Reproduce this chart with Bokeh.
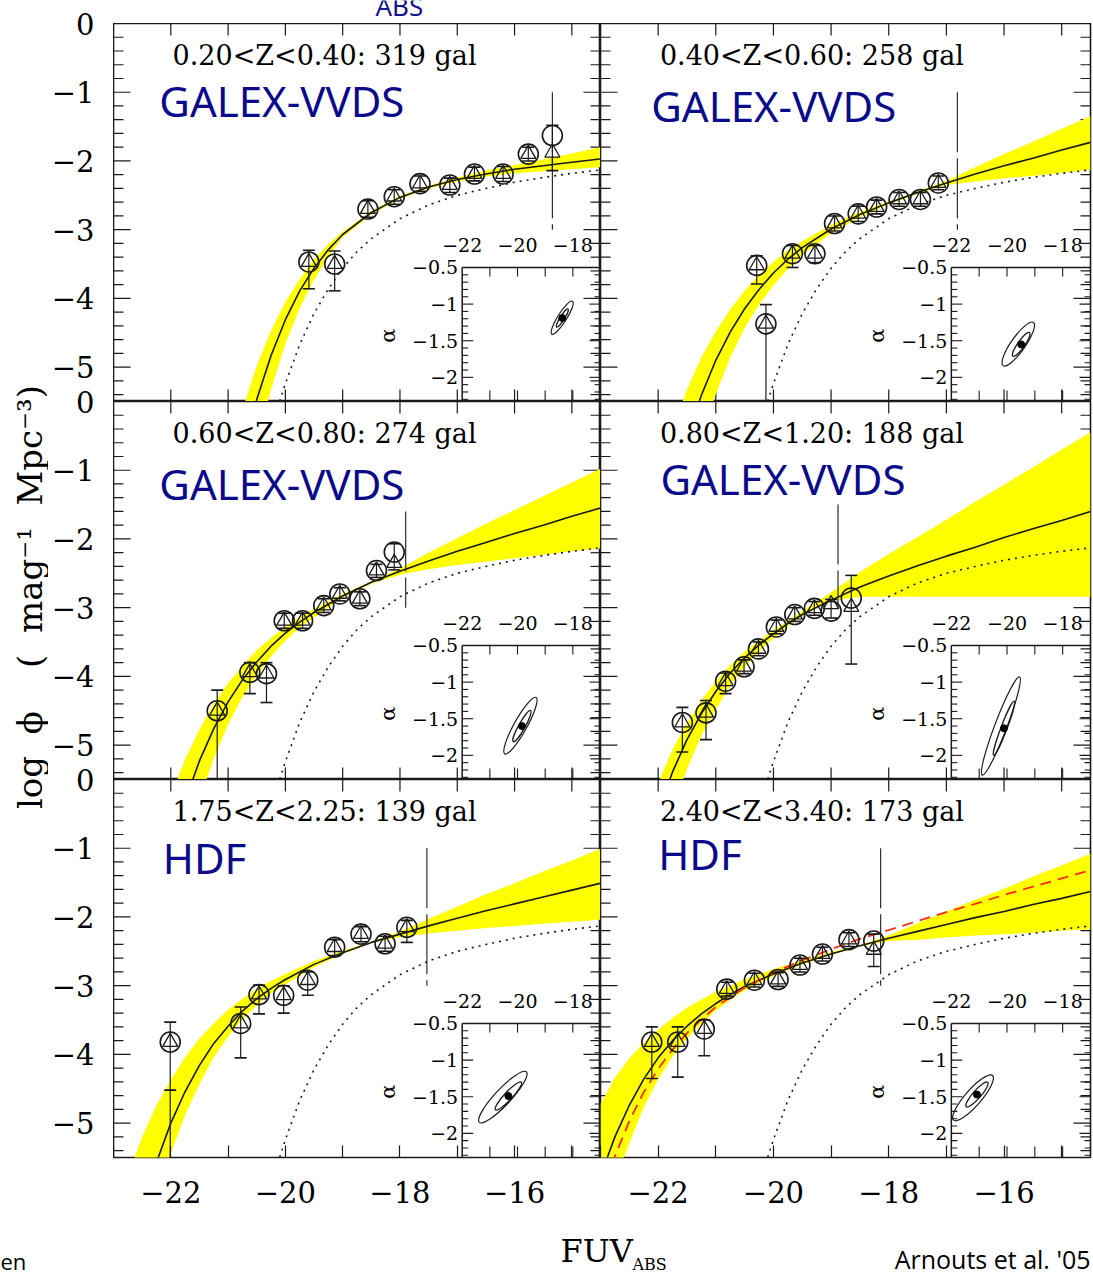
import math
from bokeh.plotting import figure
from bokeh.models import Range1d, LinearAxis, FixedTicker
from bokeh.layouts import row, column
from bokeh.embed import file_html
from bokeh.resources import INLINE
from bokeh.core.properties import value

# ------------------------------------------------------------------ values
X_LIMITS = (-23.0, -14.5)
Y_LIMITS = (-5.5, 0.0)
X_MAJOR = [-22, -20, -18, -16]
X_MINOR = [-23, -21, -19, -17, -15]
X_TICK_LABELS = ["\u221222", "\u221220", "\u221218", "\u221216"]
Y_MAJOR = [0, -1, -2, -3, -4, -5]
Y_TICK_LABELS = ["0", "\u22121", "\u22122", "\u22123", "\u22124", "\u22125"]
NB = "\u00a0"
Y_TITLE = ("log" + NB * 2 + "\u03d5" + NB * 4 + "(" + NB * 2 + "mag\u207b\u00b9"
           + NB * 2 + "Mpc\u207b\u00b3)")
X_TITLE = "FUV"
X_TITLE_SUB = "ABS"

PANEL_TITLES = ["0.20<Z<0.40: 319 gal", "0.40<Z<0.60: 258 gal",
                "0.60<Z<0.80: 274 gal", "0.80<Z<1.20: 188 gal",
                "1.75<Z<2.25: 139 gal", "2.40<Z<3.40: 173 gal"]
SURVEYS = ["GALEX-VVDS", "GALEX-VVDS", "GALEX-VVDS", "GALEX-VVDS", "HDF", "HDF"]

# local (z=0) luminosity function, dotted, same in every panel
LOCAL_X = [-20.2, -20.1, -20.0, -19.75, -19.5, -19.25, -19.0, -18.75, -18.5,
           -18.0, -17.5, -17.0, -16.5, -16.0, -15.5, -15.0, -14.5]
LOCAL_Y = [-5.79, -5.50, -5.24, -4.67, -4.22, -3.86, -3.56, -3.32, -3.13,
           -2.84, -2.64, -2.50, -2.40, -2.31, -2.24, -2.18, -2.13]

# data points: circle value, triangle value, error range
P1_X = [-19.59, -19.14, -18.56, -18.10, -17.65, -17.13, -16.70, -16.20, -15.76, -15.34]
P1_Y = [-3.47, -3.50, -2.70, -2.52, -2.33, -2.35, -2.19, -2.19, -1.90, -1.63]
P1_TRI = [-3.47, -3.50, -2.70, -2.52, -2.33, -2.35, -2.19, -2.19, -1.90, -1.88]
P1_LO = [-3.86, -3.89, -2.82, -2.63, -2.44, -2.46, -2.29, -2.30, -2.00, -2.14]
P1_HI = [-3.30, -3.31, -2.58, -2.42, -2.22, -2.25, -2.09, -2.08, -1.80, -1.48]

P2_X = [-20.29, -20.13, -19.67, -19.28, -18.94, -18.53, -18.21, -17.82, -17.45, -17.14]
P2_Y = [-3.52, -4.37, -3.35, -3.35, -2.91, -2.77, -2.67, -2.56, -2.56, -2.32]
P2_TRI = [-3.52, -4.37, -3.35, -3.35, -2.91, -2.77, -2.67, -2.56, -2.56, -2.32]
P2_LO = [-3.79, -6.00, -3.55, -3.48, -3.02, -2.88, -2.77, -2.66, -2.66, -2.42]
P2_HI = [-3.38, -4.09, -3.23, -3.23, -2.80, -2.66, -2.57, -2.46, -2.46, -2.22]

P3_X = [-21.19, -20.62, -20.33, -20.02, -19.70, -19.33, -19.05, -18.70, -18.41, -18.10]
P3_Y = [-4.50, -3.94, -3.96, -3.19, -3.19, -2.97, -2.80, -2.87, -2.46, -2.19]
P3_TRI = [-4.50, -3.94, -3.96, -3.19, -3.19, -2.97, -2.80, -2.87, -2.46, -2.35]
P3_LO = [-6.00, -4.25, -4.38, -3.30, -3.30, -3.07, -2.90, -2.97, -2.56, -2.45]
P3_HI = [-4.20, -3.80, -3.80, -3.08, -3.08, -2.87, -2.71, -2.77, -2.37, -2.07]

P4_X = [-21.58, -21.17, -20.83, -20.51, -20.26, -19.95, -19.63, -19.29, -19.00, -18.65]
P4_Y = [-4.67, -4.53, -4.07, -3.86, -3.60, -3.28, -3.10, -3.01, -3.05, -2.86]
P4_TRI = [-4.67, -4.53, -4.07, -3.86, -3.60, -3.28, -3.10, -3.01, -2.95, -2.99]
P4_LO = [-5.10, -4.92, -4.25, -3.96, -3.70, -3.38, -3.20, -3.11, -3.15, -3.82]
P4_HI = [-4.45, -4.35, -3.95, -3.76, -3.50, -3.18, -3.00, -2.91, -2.88, -2.53]

P5_X = [-22.01, -20.78, -20.46, -20.03, -19.61, -19.14, -18.68, -18.26, -17.88]
P5_Y = [-3.82, -3.55, -3.13, -3.14, -2.92, -2.44, -2.25, -2.39, -2.15]
P5_TRI = [-3.82, -3.55, -3.13, -3.14, -2.92, -2.44, -2.25, -2.39, -2.15]
P5_LO = [-6.00, -4.05, -3.41, -3.40, -3.14, -2.56, -2.36, -2.50, -2.37]
P5_HI = [-3.53, -3.31, -2.99, -3.00, -2.80, -2.33, -2.14, -2.28, -2.05]

P6_X = [-22.11, -21.66, -21.20, -20.81, -20.33, -19.92, -19.54, -19.15, -18.69, -18.26]
P6_Y = [-3.82, -3.82, -3.63, -3.05, -2.92, -2.91, -2.70, -2.54, -2.33, -2.35]
P6_TRI = [-3.82, -3.82, -3.63, -3.05, -2.92, -2.91, -2.70, -2.54, -2.33, -2.48]
P6_LO = [-4.35, -4.33, -4.02, -3.15, -3.02, -3.01, -2.80, -2.64, -2.43, -2.72]
P6_HI = [-3.60, -3.60, -3.50, -2.95, -2.82, -2.81, -2.60, -2.44, -2.23, -2.25]

# extra error caps (triangle estimator)
EXTRA_CAP_X = [[], [], [], [], [-22.01], []]
EXTRA_CAP_Y = [[], [], [], [], [-4.52], []]

# best-fit curves (solid) and their uncertainty bands (yellow)
P1_FIT_X = [-21.0, -20.75, -20.5, -20.25, -20.0, -19.75, -19.5, -19.25, -19.0, -18.5,
            -18.0, -17.5, -17.0, -16.5, -16.0, -15.5, -15.0, -14.5]
P1_FIT_Y = [-7.30, -6.29, -5.47, -4.83, -4.31, -3.89, -3.56, -3.29, -3.07, -2.75,
            -2.53, -2.38, -2.27, -2.19, -2.12, -2.07, -2.02, -1.97]
P1_BAND_HI = [-6.49, -5.62, -4.98, -4.47, -4.05, -3.72, -3.43, -3.21, -3.03, -2.73,
              -2.51, -2.36, -2.24, -2.14, -2.06, -1.98, -1.89, -1.80]
P1_BAND_LO = [-8.30, -7.20, -6.13, -5.32, -4.66, -4.14, -3.73, -3.39, -3.11, -2.78,
              -2.55, -2.40, -2.30, -2.23, -2.18, -2.15, -2.12, -2.09]

P2_FIT_X = [-21.75, -21.5, -21.25, -21.0, -20.75, -20.5, -20.25, -20.0, -19.75, -19.5,
            -19.0, -18.5, -18.0, -17.5, -17.0, -16.5, -16.0, -15.5, -15.0, -14.5]
P2_FIT_Y = [-6.80, -6.03, -5.41, -4.90, -4.49, -4.15, -3.87, -3.63, -3.43, -3.26,
            -2.99, -2.78, -2.61, -2.46, -2.32, -2.19, -2.07, -1.96, -1.84, -1.73]
P2_BAND_HI = [-5.89, -5.33, -4.86, -4.48, -4.16, -3.89, -3.66, -3.47, -3.30, -3.17,
              -2.93, -2.74, -2.59, -2.44, -2.29, -2.09, -1.90, -1.72, -1.53, -1.35]
P2_BAND_LO = [-7.50, -6.86, -6.03, -5.39, -4.86, -4.43, -4.09, -3.81, -3.57, -3.37,
              -3.05, -2.82, -2.63, -2.48, -2.35, -2.30, -2.25, -2.22, -2.17, -2.13]

P3_FIT_X = [-22.25, -22.0, -21.75, -21.5, -21.25, -21.0, -20.75, -20.5, -20.25, -20.0,
            -19.75, -19.5, -19.0, -18.5, -18.0, -17.5, -17.0, -16.5, -16.0, -15.5,
            -15.0, -14.5]
P3_FIT_Y = [-7.40, -6.52, -5.81, -5.23, -4.76, -4.37, -4.05, -3.79, -3.56, -3.37,
            -3.21, -3.07, -2.83, -2.63, -2.47, -2.32, -2.18, -2.05, -1.92, -1.80,
            -1.67, -1.55]
P3_BAND_HI = [-6.40, -5.74, -5.21, -4.77, -4.40, -4.10, -3.85, -3.62, -3.44, -3.28,
              -3.14, -3.02, -2.80, -2.62, -2.43, -2.20, -1.99, -1.78, -1.58, -1.38,
              -1.18, -0.98]
P3_BAND_LO = [-8.40, -7.50, -6.55, -5.81, -5.19, -4.70, -4.30, -3.98, -3.71, -3.48,
              -3.29, -3.14, -2.86, -2.65, -2.52, -2.44, -2.38, -2.33, -2.28, -2.23,
              -2.18, -2.14]

P4_FIT_X = [-22.5, -22.25, -22.0, -21.75, -21.5, -21.25, -21.0, -20.75, -20.5, -20.25,
            -20.0, -19.75, -19.5, -19.0, -18.5, -18.0, -17.5, -17.0, -16.5, -16.0,
            -15.5, -15.0, -14.5]
P4_FIT_Y = [-7.54, -6.67, -5.96, -5.39, -4.92, -4.54, -4.22, -3.95, -3.73, -3.54,
            -3.38, -3.23, -3.10, -2.89, -2.70, -2.54, -2.39, -2.25, -2.12, -1.98,
            -1.85, -1.73, -1.60]
P4_BAND_HI = [-6.87, -6.28, -5.55, -5.06, -4.68, -4.35, -4.07, -3.84, -3.64, -3.48,
              -3.33, -3.19, -3.05, -2.78, -2.48, -2.22, -1.97, -1.72, -1.46, -1.21,
              -0.96, -0.70, -0.45]
P4_BAND_LO = [-8.50, -7.47, -6.61, -5.92, -5.35, -4.86, -4.48, -4.13, -3.86, -3.64,
              -3.44, -3.27, -3.12, -2.90, -2.84, -2.84, -2.84, -2.84, -2.84, -2.84,
              -2.84, -2.84, -2.84]

P5_FIT_X = [-23.0, -22.75, -22.5, -22.25, -22.0, -21.75, -21.5, -21.25, -21.0, -20.75,
            -20.5, -20.25, -20.0, -19.5, -19.0, -18.5, -18.0, -17.5, -17.0, -16.5,
            -16.0, -15.5, -15.0, -14.5]
P5_FIT_Y = [-8.25, -7.16, -6.28, -5.57, -5.00, -4.54, -4.16, -3.84, -3.59, -3.37,
            -3.19, -3.04, -2.91, -2.69, -2.52, -2.37, -2.25, -2.13, -2.02, -1.91,
            -1.81, -1.71, -1.61, -1.51]
P5_BAND_HI = [-6.44, -5.77, -5.20, -4.74, -4.37, -4.04, -3.77, -3.55, -3.35, -3.19,
              -3.05, -2.93, -2.83, -2.64, -2.49, -2.36, -2.21, -2.03, -1.85, -1.67,
              -1.51, -1.34, -1.18, -1.01]
P5_BAND_LO = [-9.20, -8.16, -7.05, -6.16, -5.44, -4.88, -4.43, -4.04, -3.74, -3.49,
              -3.28, -3.11, -2.98, -2.73, -2.54, -2.38, -2.29, -2.24, -2.20, -2.16,
              -2.13, -2.10, -2.07, -2.04]

P6_FIT_X = [-23.0, -22.75, -22.5, -22.25, -22.0, -21.75, -21.5, -21.25, -21.0, -20.75,
            -20.5, -20.0, -19.5, -19.0, -18.5, -18.0, -17.5, -17.0, -16.5, -16.0,
            -15.5, -15.0, -14.5]
P6_FIT_Y = [-5.77, -5.20, -4.74, -4.36, -4.05, -3.80, -3.59, -3.41, -3.26, -3.13,
            -3.01, -2.83, -2.67, -2.54, -2.42, -2.31, -2.21, -2.11, -2.01, -1.92,
            -1.82, -1.73, -1.63]
P6_BAND_HI = [-4.72, -4.34, -4.06, -3.83, -3.64, -3.47, -3.32, -3.20, -3.09, -3.00,
              -2.91, -2.76, -2.63, -2.51, -2.41, -2.27, -2.09, -1.92, -1.75, -1.59,
              -1.41, -1.25, -1.08]
P6_BAND_LO = [-6.80, -5.86, -5.29, -4.77, -4.36, -4.03, -3.77, -3.55, -3.36, -3.21,
              -3.07, -2.86, -2.69, -2.55, -2.43, -2.35, -2.33, -2.30, -2.27, -2.25,
              -2.23, -2.20, -2.18]
# alternative fit shown in the last panel (red dashed)
P6_ALT_Y = [-6.10, -5.48, -4.97, -4.55, -4.21, -3.93, -3.69, -3.49, -3.31, -3.17,
            -3.03, -2.81, -2.63, -2.47, -2.32, -2.19, -2.06, -1.93, -1.81, -1.68,
            -1.56, -1.44, -1.32]

# vertical completeness-limit lines
LIMIT_X = [-15.34, -16.81, -17.90, -18.88, -17.53, -18.14]
LIMIT_TOP = [-1.0, -1.0, -1.6, -1.5, -1.0, -1.0]
LIMIT_BOT = [-3.0, -3.0, -3.0, -3.0, -3.0, -3.0]

# insets: (M*, alpha) confidence contours
INSET_X_LIMITS = (-22.0, -17.0)
INSET_Y_LIMITS = (-2.33, -0.5)
INSET_X_TICKS = [-21, -20, -19, -18]
INSET_X_LABEL_TICKS = [-22, -20, -18]
INSET_X_LABELS = ["\u221222", "\u221220", "\u221218"]
INSET_Y_LABEL_TICKS = [-0.5, -1.0, -1.5, -2.0]
INSET_Y_LABELS = ["\u22120.5", "\u22121", "\u22121.5", "\u22122"]
BEST_M = [-18.38, -19.49, -19.84, -20.11, -20.33, -21.08]
BEST_ALPHA = [-1.19, -1.55, -1.60, -1.63, -1.49, -1.47]
ELL_X1 = [-18.76, -20.14, -20.46, -20.89, -21.38, -21.92]
ELL_Y1 = [-1.41, -1.84, -1.98, -2.27, -1.85, -1.82]
ELL_X2 = [-18.01, -19.05, -19.33, -19.55, -19.68, -20.52]
ELL_Y2 = [-0.96, -1.25, -1.21, -0.93, -1.16, -1.21]
ELL_RATIO = [0.23, 0.27, 0.20, 0.115, 0.23, 0.27]

PANELS = [
    (P1_X, P1_Y, P1_TRI, P1_LO, P1_HI, P1_FIT_X, P1_FIT_Y, P1_BAND_LO, P1_BAND_HI),
    (P2_X, P2_Y, P2_TRI, P2_LO, P2_HI, P2_FIT_X, P2_FIT_Y, P2_BAND_LO, P2_BAND_HI),
    (P3_X, P3_Y, P3_TRI, P3_LO, P3_HI, P3_FIT_X, P3_FIT_Y, P3_BAND_LO, P3_BAND_HI),
    (P4_X, P4_Y, P4_TRI, P4_LO, P4_HI, P4_FIT_X, P4_FIT_Y, P4_BAND_LO, P4_BAND_HI),
    (P5_X, P5_Y, P5_TRI, P5_LO, P5_HI, P5_FIT_X, P5_FIT_Y, P5_BAND_LO, P5_BAND_HI),
    (P6_X, P6_Y, P6_TRI, P6_LO, P6_HI, P6_FIT_X, P6_FIT_Y, P6_BAND_LO, P6_BAND_HI),
]

# ------------------------------------------------------------------ layout / style
PAGE_W, PAGE_H = 1093, 1275
TITLE_W = 48
TICKS_W = 65
LEFT_W = TITLE_W + TICKS_W
FRAME_W = [487, 490]
RIGHT_B = 3
TOP_B = 23
FRAME_H = 378
BOTTOM_B = 60
GRID_H = TOP_B + 3 * FRAME_H + BOTTOM_B
XSTRIP_H = PAGE_H - GRID_H
INSET_LEFT_FRAC = 0.716
INSET_TOP_FRAC = 0.3545

SERIF = "DejaVu Serif"
SANS = "Noto Sans"
NAVY = "#0b0b8a"
INK = "#1a1a1a"
PANEL_X_TICKS = [-22, -21, -20, -19, -18, -17, -16, -15]
Y_MINOR = [round(-0.2 * i, 1) for i in range(1, 28) if i % 5 != 0]

TITLE_POS = (-21.97, -0.47)
SURVEY_POS = [(-22.20, -1.12), (-22.12, -1.19), (-22.20, -1.20),
              (-21.96, -1.12), (-22.14, -1.13), (-22.00, -1.08)]


def draw_frame_ticks(p, fw, bottom):
    sx = fw / (X_LIMITS[1] - X_LIMITS[0])
    sy = FRAME_H / (Y_LIMITS[1] - Y_LIMITS[0])
    y0, y1 = Y_LIMITS
    x0, x1 = X_LIMITS
    n = len(PANEL_X_TICKS)
    p.segment(x0=PANEL_X_TICKS, y0=[y1] * n, x1=PANEL_X_TICKS, y1=[y1 - 12 / sy] * n,
              line_color=INK, line_width=1.2)
    if not bottom:
        p.segment(x0=PANEL_X_TICKS, y0=[y0] * n, x1=PANEL_X_TICKS, y1=[y0 + 12 / sy] * n,
                  line_color=INK, line_width=1.2)
    for ys, ln in ((Y_MAJOR[1:], 17), (Y_MINOR, 10)):
        m = len(ys)
        p.segment(x0=[x0] * m, y0=ys, x1=[x0 + ln / sx] * m, y1=ys,
                  line_color=INK, line_width=1.2)
        p.segment(x0=[x1] * m, y0=ys, x1=[x1 - ln / sx] * m, y1=ys,
                  line_color=INK, line_width=1.2)


def draw_inset(p, k, fw):
    ix0, ix1 = INSET_X_LIMITS
    iy0, iy1 = INSET_Y_LIMITS
    span_x = (ix1 - ix0) / (1 - INSET_LEFT_FRAC)
    span_y = (iy1 - iy0) / INSET_TOP_FRAC
    p.extra_x_ranges = {"ix": Range1d(ix1 - span_x, ix1)}
    p.extra_y_ranges = {"iy": Range1d(iy0, iy0 + span_y)}
    pxx = fw * (1 - INSET_LEFT_FRAC) / (ix1 - ix0)
    pxy = FRAME_H * INSET_TOP_FRAC / (iy1 - iy0)
    kw = dict(x_range_name="ix", y_range_name="iy")

    p.segment(x0=[ix0, ix0], y0=[iy0, iy1], x1=[ix0, ix1], y1=[iy1, iy1],
              line_color=INK, line_width=1.5, **kw)
    n = len(INSET_X_TICKS)
    p.segment(x0=INSET_X_TICKS, y0=[iy1] * n, x1=INSET_X_TICKS, y1=[iy1 - 9 / pxy] * n,
              line_color=INK, line_width=1.1, **kw)
    p.segment(x0=INSET_X_TICKS, y0=[iy0] * n, x1=INSET_X_TICKS, y1=[iy0 + 11 / pxy] * n,
              line_color=INK, line_width=1.1, **kw)
    majors = [-1.0, -1.5, -2.0]
    minors = [round(-0.1 * i, 1) for i in range(6, 24) if i % 5 != 0]
    for ys, ln in ((majors, 11), (minors, 6)):
        m = len(ys)
        p.segment(x0=[ix0] * m, y0=ys, x1=[ix0 + ln / pxx] * m, y1=ys,
                  line_color=INK, line_width=1.1, **kw)
        p.segment(x0=[ix1] * m, y0=ys, x1=[ix1 - ln / pxx] * m, y1=ys,
                  line_color=INK, line_width=1.1, **kw)
    p.text(x=INSET_X_LABEL_TICKS, y=[iy1] * 3, text=INSET_X_LABELS,
           text_align="center", text_baseline="middle", y_offset=-22,
           text_font=value(SERIF), text_font_size="19px", text_color="black", **kw)
    p.text(x=[ix0] * 4, y=INSET_Y_LABEL_TICKS, text=INSET_Y_LABELS,
           text_align="right", text_baseline="middle", x_offset=-4,
           text_font=value(SERIF), text_font_size="19px", text_color="black", **kw)
    p.text(x=[ix0], y=[-1.43], text=["\u03b1"], angle=math.pi / 2,
           text_align="center", text_baseline="middle", x_offset=-74,
           text_font=value(SERIF), text_font_size="21px", text_color="black", **kw)

    # confidence contours and best fit
    x1, y1, x2, y2 = ELL_X1[k], ELL_Y1[k], ELL_X2[k], ELL_Y2[k]
    cx, cy = (x1 + x2) / 2, (y1 + y2) / 2
    dxp, dyp = (x2 - x1) * pxx, (y2 - y1) * pxy
    length = math.hypot(dxp, dyp)
    ang = math.atan2(dyp, dxp)
    w = length / pxx
    h = ELL_RATIO[k] * length / pxy
    p.ellipse(x=[cx], y=[cy], width=[w], height=[h], angle=[ang],
              fill_color=None, line_color=INK, line_width=1.2, **kw)
    p.ellipse(x=[BEST_M[k]], y=[BEST_ALPHA[k]], width=[w * 0.55], height=[h * 0.5],
              angle=[ang], fill_color=None, line_color=INK, line_width=1.3, **kw)
    p.scatter(x=[BEST_M[k]], y=[BEST_ALPHA[k]], size=7, color="black", **kw)


def make_panel(k):
    r, c = divmod(k, 2)
    bottom = r == 2
    fw = FRAME_W[c]
    width = fw + (RIGHT_B if c == 1 else 0)
    height = FRAME_H + (BOTTOM_B if bottom else 0)
    p = figure(width=width, height=height,
               x_range=Range1d(*X_LIMITS), y_range=Range1d(*Y_LIMITS),
               x_axis_type=None, y_axis_type=None,
               output_backend="svg", toolbar_location=None,
               min_border_left=0, min_border_right=RIGHT_B if c == 1 else 0,
               min_border_top=0, min_border_bottom=BOTTOM_B if bottom else 0,
               background_fill_color="white", border_fill_color="white",
               outline_line_color=INK, outline_line_width=1.6)

    if bottom:
        ax = LinearAxis(ticker=FixedTicker(ticks=X_MAJOR, minor_ticks=X_MINOR))
        ax.axis_line_color = None
        ax.major_tick_line_color = INK
        ax.minor_tick_line_color = INK
        ax.major_tick_line_width = 1.2
        ax.minor_tick_line_width = 1.2
        ax.major_tick_in = 12
        ax.minor_tick_in = 12
        ax.major_tick_out = 0
        ax.minor_tick_out = 0
        ax.major_label_text_font = SERIF
        ax.major_label_text_font_size = "29px"
        ax.major_label_text_color = "black"
        ax.major_label_standoff = 23
        ax.major_label_overrides = dict(zip(X_MAJOR, X_TICK_LABELS))
        p.add_layout(ax, "below")
    draw_frame_ticks(p, fw, bottom)

    xs, yc, yt, lo, hi, fx, fy, blo, bhi = PANELS[k]
    p.varea(x=fx, y1=blo, y2=bhi, fill_color="#ffff00", fill_alpha=1.0)
    p.line(LOCAL_X, LOCAL_Y, line_color=INK, line_width=1.6, line_dash="2 5")
    p.line(fx, fy, line_color=INK, line_width=1.6)
    if k == 5:
        p.line(fx, P6_ALT_Y, line_color="#ff2a10", line_width=1.8, line_dash="11 7")
    p.segment(x0=[LIMIT_X[k]], y0=[LIMIT_TOP[k]], x1=[LIMIT_X[k]], y1=[LIMIT_BOT[k]],
              line_color=INK, line_width=1.1, line_dash="60 6")

    # error bars and caps
    p.segment(x0=xs, y0=lo, x1=xs, y1=hi, line_color=INK, line_width=1.2)
    p.scatter(x=xs, y=lo, marker="dash", size=12, line_color=INK, line_width=1.6)
    p.scatter(x=xs, y=hi, marker="dash", size=12, line_color=INK, line_width=1.6)
    if EXTRA_CAP_X[k]:
        p.scatter(x=EXTRA_CAP_X[k], y=EXTRA_CAP_Y[k], marker="dash", size=12,
                  line_color=INK, line_width=1.6)
    p.scatter(x=xs, y=yc, marker="circle", size=20, fill_alpha=0,
              line_color=INK, line_width=1.6)
    p.scatter(x=xs, y=yt, marker="triangle", size=15, fill_alpha=0,
              line_color=INK, line_width=1.3)

    # texts
    p.text(x=[TITLE_POS[0]], y=[TITLE_POS[1]], text=[PANEL_TITLES[k]],
           text_font=value(SERIF), text_font_size="27px", text_color="black",
           text_baseline="middle", text_align="left")
    sx, sy = SURVEY_POS[k]
    p.text(x=[sx], y=[sy], text=[SURVEYS[k]], text_font=value(SANS),
           text_font_size="42px", text_color=NAVY,
           text_baseline="middle", text_align="left")

    draw_inset(p, k, fw)
    return p


panels = [make_panel(k) for k in range(6)]

# ---- y tick labels strip (one axis over the three rows)
ROW_SPAN = Y_LIMITS[1] - Y_LIMITS[0]
strip_ticks, strip_over = [], {}
for r in range(3):
    for v, lab in zip(Y_MAJOR, Y_TICK_LABELS):
        t = v - ROW_SPAN * r
        strip_ticks.append(t)
        strip_over[t] = lab
tickstrip = figure(width=TICKS_W, height=GRID_H, x_range=Range1d(0, 1),
                   y_range=Range1d(Y_LIMITS[0] - 2 * ROW_SPAN, Y_LIMITS[1]),
                   x_axis_type=None, y_axis_type=None,
                   output_backend="svg", toolbar_location=None,
                   min_border_left=TICKS_W - 1, min_border_right=0,
                   min_border_top=TOP_B, min_border_bottom=BOTTOM_B,
                   outline_line_color=None, border_fill_color="white",
                   background_fill_color="white")
yax = LinearAxis(ticker=FixedTicker(ticks=strip_ticks, minor_ticks=[]))
yax.axis_line_color = None
yax.major_tick_line_color = None
yax.major_tick_in = 0
yax.major_tick_out = 0
yax.minor_tick_in = 0
yax.minor_tick_out = 0
yax.major_label_text_font = SERIF
yax.major_label_text_font_size = "29px"
yax.major_label_text_color = "black"
yax.major_label_standoff = 19
yax.major_label_overrides = strip_over
tickstrip.add_layout(yax, "left")

# ---- y title strip
titlestrip = figure(width=TITLE_W, height=GRID_H, x_range=Range1d(0, TITLE_W),
                    y_range=Range1d(0, GRID_H), x_axis_type=None, y_axis_type=None,
                    output_backend="svg", toolbar_location=None, min_border=0,
                    outline_line_color=None, border_fill_color="white",
                    background_fill_color="white")
titlestrip.text(x=[29], y=[GRID_H - 843], text=[Y_TITLE], angle=math.pi / 2,
                text_align="left", text_baseline="middle",
                text_font=value(SERIF), text_font_size="34px", text_color="black")

# ---- top strip (slide text cut at the top edge)
tstrip = figure(width=PAGE_W - LEFT_W, height=TOP_B, x_range=Range1d(LEFT_W, PAGE_W),
                y_range=Range1d(0, TOP_B), x_axis_type=None, y_axis_type=None,
                output_backend="svg", toolbar_location=None, min_border=0,
                outline_line_color=None, border_fill_color="white",
                background_fill_color="white")
tstrip.text(x=[375], y=[TOP_B - 5], text=["ABS"], text_font=value(SANS),
            text_font_size="26px", text_color="#14148c", text_baseline="middle")

# ---- x title strip
xstrip = figure(width=PAGE_W, height=XSTRIP_H, x_range=Range1d(0, PAGE_W),
                y_range=Range1d(0, XSTRIP_H), x_axis_type=None, y_axis_type=None,
                output_backend="svg", toolbar_location=None, min_border=0,
                outline_line_color=None, border_fill_color="white",
                background_fill_color="white")
xstrip.text(x=[560], y=[PAGE_H - 1250], text=[X_TITLE], text_font=value(SERIF),
            text_font_size="32px", text_color="black", text_baseline="middle")
xstrip.text(x=[632], y=[PAGE_H - 1264], text=[X_TITLE_SUB], text_font=value(SERIF),
            text_font_size="16px", text_color="black", text_baseline="middle")
xstrip.text(x=[0], y=[PAGE_H - 1260], text=["en"], text_font=value("Open Sans"),
            text_font_size="22px", text_color="black", text_baseline="middle",
            text_align="left")
xstrip.text(x=[1090], y=[PAGE_H - 1258], text=["Arnouts et al. '05"],
            text_font=value("Open Sans"), text_font_size="25px", text_color="black",
            text_baseline="middle", text_align="right")

right_side = column(tstrip, row(panels[0], panels[1]), row(panels[2], panels[3]),
                    row(panels[4], panels[5]))
page = column(row(titlestrip, tickstrip, right_side), xstrip)

open("out.html", "w").write(file_html(page, INLINE))
